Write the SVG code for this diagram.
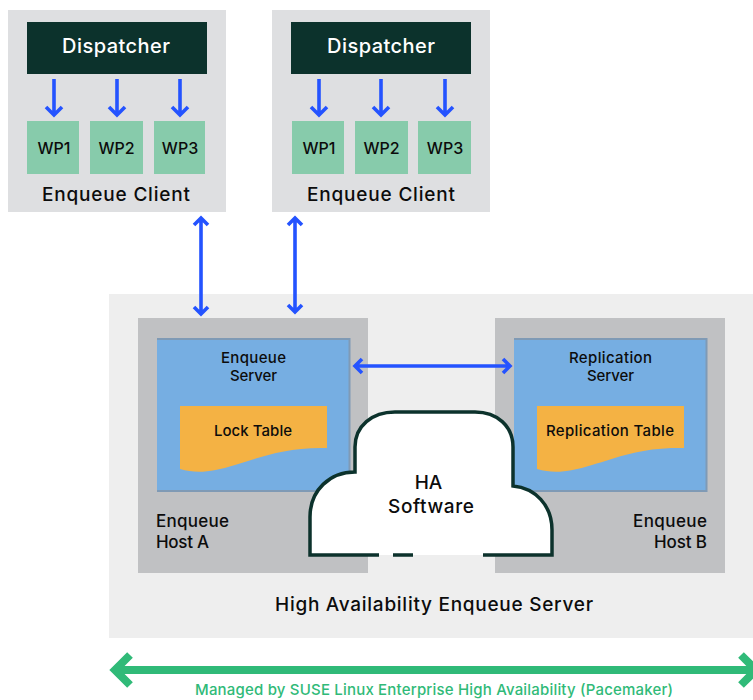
<svg xmlns="http://www.w3.org/2000/svg" width="753" height="700" viewBox="0 0 753 700">
<style>
text{font-family:Inter,"Liberation Sans",sans-serif;text-anchor:middle;fill:#0c0c0c;font-weight:500}
.lg{font-size:19px}.md{font-size:16px}.sm{font-size:15px}
.client{fill:#dedfe1}.disp{fill:#0c322c}.wp{fill:#87cbab}.host{fill:#c0c1c3}
.srv{fill:#76aee2}.edge{fill:none;stroke:#7f9ab5;stroke-width:2}.tbl{fill:#f4b244}
.blue{fill:none;stroke:#2453ff;stroke-width:3.600}
.green{fill:none;stroke:#30ba78;stroke-width:8}
</style>
<rect width="753" height="700" fill="#fff"/>
<g id="ha-server"><rect x="109" y="294" width="644" height="344" fill="#eeeeee"/><text x="434" y="611" class="lg" textLength="318">High Availability Enqueue Server</text></g>
<g id="client-1"><rect class="client" x="8" y="10" width="218" height="202"/><rect class="disp" x="27" y="22" width="180" height="52"/><text x="116" y="53" class="lg" style="fill:#fff;font-size:20px" textLength="108">Dispatcher</text>
<rect class="wp" x="27" y="121" width="52" height="53"/><text x="54" y="154" class="md">WP1</text>
<rect class="wp" x="90" y="121" width="53" height="53"/><text x="116.500" y="154" class="md">WP2</text>
<rect class="wp" x="154" y="121" width="51" height="53"/><text x="180" y="154" class="md">WP3</text>
<text x="116" y="201" class="lg" textLength="148">Enqueue Client</text></g>
<g id="client-2"><rect class="client" x="272" y="10" width="218" height="202"/><rect class="disp" x="291" y="22" width="180" height="52"/><text x="381" y="53" class="lg" style="fill:#fff;font-size:20px" textLength="108">Dispatcher</text>
<rect class="wp" x="292" y="121" width="52" height="53"/><text x="319" y="154" class="md">WP1</text>
<rect class="wp" x="355" y="121" width="53" height="53"/><text x="381.500" y="154" class="md">WP2</text>
<rect class="wp" x="418" y="121" width="53" height="53"/><text x="445" y="154" class="md">WP3</text>
<text x="381" y="201" class="lg" textLength="148">Enqueue Client</text></g>
<g id="host-a"><rect class="host" x="138" y="318" width="230" height="255"/><text x="156" y="527" class="md" style="text-anchor:start;font-size:17px" textLength="73">Enqueue</text><text x="156" y="548" class="md" style="text-anchor:start;font-size:17px" textLength="53">Host A</text></g>
<g id="host-b"><rect class="host" x="495" y="318" width="230" height="255"/><text x="633" y="527" class="md" style="text-anchor:start;font-size:17px" textLength="74">Enqueue</text><text x="654" y="548" class="md" style="text-anchor:start;font-size:17px" textLength="53">Host B</text></g>
<g id="enqueue-server"><rect class="srv" x="157" y="339" width="192" height="152"/><path class="edge" d="M157 339H349.500V491H157"/><text x="253.500" y="363" class="sm" textLength="65">Enqueue</text><text x="253.500" y="381" class="sm" textLength="47">Server</text>
<path class="tbl" d="M180 406H327V448C285 447 262 457 235 465C212 472 197 474 180 469Z"/><text x="253" y="436" class="sm" textLength="78">Lock Table</text></g>
<g id="replication-server"><rect class="srv" x="514" y="339" width="192" height="152"/><path class="edge" d="M514 339H706.500V491H514"/><text x="610.500" y="363" class="sm" textLength="83">Replication</text><text x="610.500" y="381" class="sm" textLength="47">Server</text>
<path class="tbl" d="M537 406H684V448C642 447 619 457 592 465C569 472 554 474 537 469Z"/><text x="610" y="436" class="sm" textLength="128">Replication Table</text></g>
<g id="ha-software"><path d="M310 555V517C310 490 330 472 355 472V447C355 426 372 412 395 412H475C497 412 513 426 513 447V486C535 488 552 505 552 530V555Z" fill="#fff"/>
<path d="M379 555H310V517C310 490 330 472 355 472V447C355 426 372 412 395 412H475C497 412 513 426 513 447V486C535 488 552 505 552 530V555H483M393 555H413" fill="none" stroke="#0c322c" stroke-width="3.500"/>
<text x="428.500" y="489" class="lg">HA</text><text x="431" y="513" class="lg" textLength="86">Software</text></g>
<g id="connectors">
<g class="blue"><path d="M54 79V115M46 107L54 115L62 107"/><path d="M117 79V115M109 107L117 115L125 107"/><path d="M180 79V115M172 107L180 115L188 107"/>
<path d="M319 79V115M311 107L319 115L327 107"/><path d="M381 79V115M373 107L381 115L389 107"/><path d="M445 79V115M437 107L445 115L453 107"/>
<path d="M201 218V314M194 225L201 218L208 225M194 307L201 314L208 307"/>
<path d="M295 218V312M288 225L295 218L302 225M288 305L295 312L302 305"/>
<path d="M355 366H510M362 359L355 366L362 373M503 359L510 366L503 373"/></g>
<path class="green" d="M116 670H752M130 655L115 670L130 685M741 655L756 670L741 685"/>
</g>
<text x="434" y="695" style="fill:#30ba78;font-size:15px" textLength="478">Managed by SUSE Linux Enterprise High Availability (Pacemaker)</text>
</svg>
